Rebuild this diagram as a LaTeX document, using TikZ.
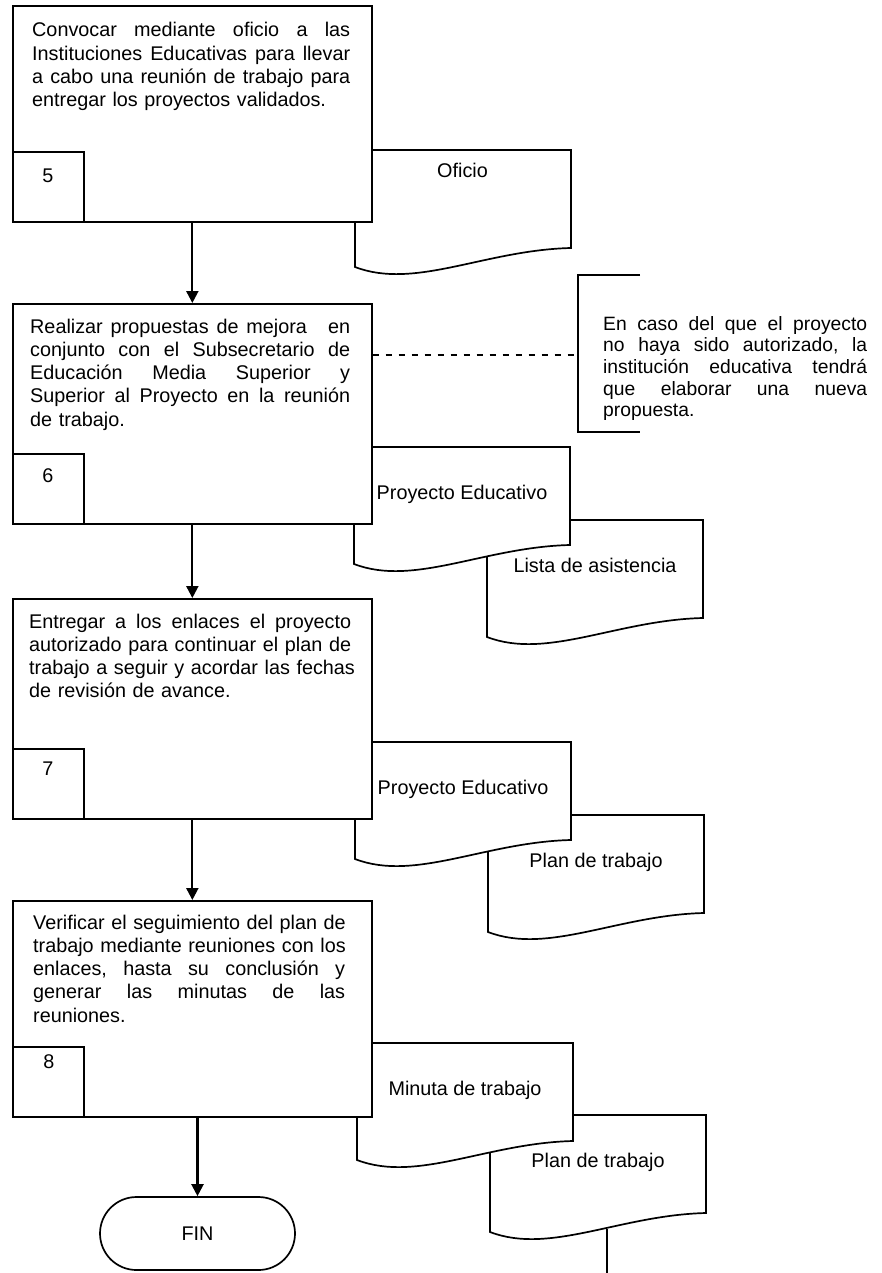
\documentclass[tikz,border=0pt]{standalone}
\usepackage{fontspec}
\setmainfont{Liberation Sans}
\usetikzlibrary{arrows.meta,shapes.misc}
\newcommand{\jl}[2]{\leavevmode\hbox to #1{#2}}
\newcommand{\docshape}[2]{\path[docline, shift={(#1,#2)}] (0,0) -- (216,0) -- (216,98) .. controls (130,100) and (60,140) .. (0,117) -- cycle;}
\begin{document}
\begin{tikzpicture}[x=1pt,y=-1pt,
  every node/.style={inner sep=0pt},
  txt/.style={font=\fontsize{19.8}{23.3}\selectfont},
  small/.style={font=\fontsize{19.3}{21.7}\selectfont},
  stepbox/.style={draw, line width=1.7pt, fill=white, minimum width=359pt, anchor=north west},
  numbox/.style={draw, line width=1.7pt, minimum width=71pt, minimum height=70pt, anchor=south west},
  docline/.style={draw, line width=1.7pt, fill=white, line join=miter},
  steptext/.style={txt, anchor=base west, align=left},
  numtext/.style={txt, anchor=base},
  doctext/.style={txt, anchor=base},
  arrow/.style={line width=2.2pt, -{Triangle[length=12pt,width=12pt]}},
]
\useasboundingbox[fill=white] (0,0) rectangle (881,1273);

% documents (back to front)
\docshape{487}{520}
\node[doctext] (l3) at (595,572) {Lista de asistencia};
\docshape{354}{447}
\node[doctext] (l2) at (462,499) {Proyecto Educativo};
\docshape{355}{150}
\node[doctext] (l1) at (462.5,178) {Oficio};
\docshape{488}{815}
\node[doctext] (l5) at (596,867) {Plan de trabajo};
\docshape{355}{742}
\node[doctext] (l4) at (463,794) {Proyecto Educativo};
\docshape{490}{1115}
\node[doctext] (l7) at (598,1167) {Plan de trabajo};
\docshape{357}{1043}
\node[doctext] (l6) at (465,1095) {Minuta de trabajo};

\coordinate (d7b) at (607,1229);
\coordinate (pend) at (607,1273);
\draw[line width=2.2pt] (d7b) -- (pend);

% step boxes
\node[stepbox, minimum height=216pt] (b1) at (12,5) {};
\node[numbox] (n1) at (b1.south west) {};
\node[steptext, text width=318pt] (t1) at (32,37) {\jl{318pt}{Convocar \hfill mediante \hfill oficio \hfill a \hfill las}\\\jl{318pt}{Instituciones \hfill Educativas \hfill para \hfill llevar}\\\jl{318pt}{a \hfill cabo \hfill una \hfill reunión \hfill de \hfill trabajo \hfill para}\\entregar los proyectos validados.};
\node[numtext] (k1) at (48,183) {5};

\node[stepbox, minimum height=220pt] (b2) at (12,303) {};
\node[numbox] (n2) at (b2.south west) {};
\node[steptext, text width=320pt] (t2) at (30,333) {\jl{320pt}{Realizar \hfill propuestas \hfill de \hfill mejora \hfill\ \ en}\\\jl{320pt}{conjunto \hfill con \hfill el \hfill Subsecretario \hfill de}\\\jl{320pt}{Educación \hfill Media \hfill Superior \hfill y}\\\jl{320pt}{Superior \hfill al \hfill Proyecto \hfill en \hfill la \hfill reunión}\\de trabajo.};
\node[numtext] (k2) at (48,482) {6};

\node[stepbox, minimum height=220pt] (b3) at (12,598) {};
\node[numbox] (n3) at (b3.south west) {};
\node[steptext, text width=322pt] (t3) at (29,628) {\jl{322pt}{Entregar \hfill a \hfill los \hfill enlaces \hfill el \hfill proyecto}\\\jl{322pt}{autorizado \hfill para \hfill continuar \hfill el \hfill plan \hfill de}\\\jl{322pt}{trabajo \hfill a \hfill seguir \hfill y \hfill acordar \hfill las \hfill fechas}\\de revisión de avance.};
\node[numtext] (k3) at (48,775) {7};

\node[stepbox, minimum height=216pt] (b4) at (12,900) {};
\node[numbox] (n4) at (b4.south west) {};
\node[steptext, text width=312pt] (t4) at (33,929) {\jl{312pt}{Verificar \hfill el \hfill seguimiento \hfill del \hfill plan \hfill de}\\\jl{312pt}{trabajo \hfill mediante \hfill reuniones \hfill con \hfill los}\\\jl{312pt}{enlaces, \hfill hasta \hfill su \hfill conclusión \hfill y}\\\jl{312pt}{generar \hfill las \hfill minutas \hfill de \hfill las}\\reuniones.};
\node[numtext] (k4) at (49,1068) {8};

% terminal
\node[draw, line width=1.7pt, rounded rectangle, minimum width=195pt, minimum height=73pt, txt] (fin) at (197.5,1233.5) {FIN};

% arrows
\draw[arrow] (b1.south) -- (b2.north);
\draw[arrow] (b2.south) -- (b3.north);
\draw[arrow] (b3.south) -- (b4.north);
\draw[arrow] (b4.south -| fin.north) -- (fin.north);

% annotation
\coordinate (bt) at (640,275);
\coordinate (btl) at (578,275);
\coordinate (bbl) at (578,432);
\coordinate (bb) at (640,432);
\draw[line width=1.7pt] (bt) -- (btl) -- (bbl) -- (bb);
\coordinate (dj) at (578,355);
\draw[line width=1.7pt, dash pattern=on 6pt off 7pt] (b2.east |- dj) -- (dj);
\node[small, anchor=base west, text width=264pt, align=left] (ann) at (603,330) {\jl{264pt}{En \hfill caso \hfill del \hfill que \hfill el \hfill proyecto}\\\jl{264pt}{no \hfill haya \hfill sido \hfill autorizado, \hfill la}\\\jl{264pt}{institución \hfill educativa \hfill tendrá}\\\jl{264pt}{que \hfill elaborar \hfill una \hfill nueva}\\propuesta.};
\end{tikzpicture}
\end{document}
